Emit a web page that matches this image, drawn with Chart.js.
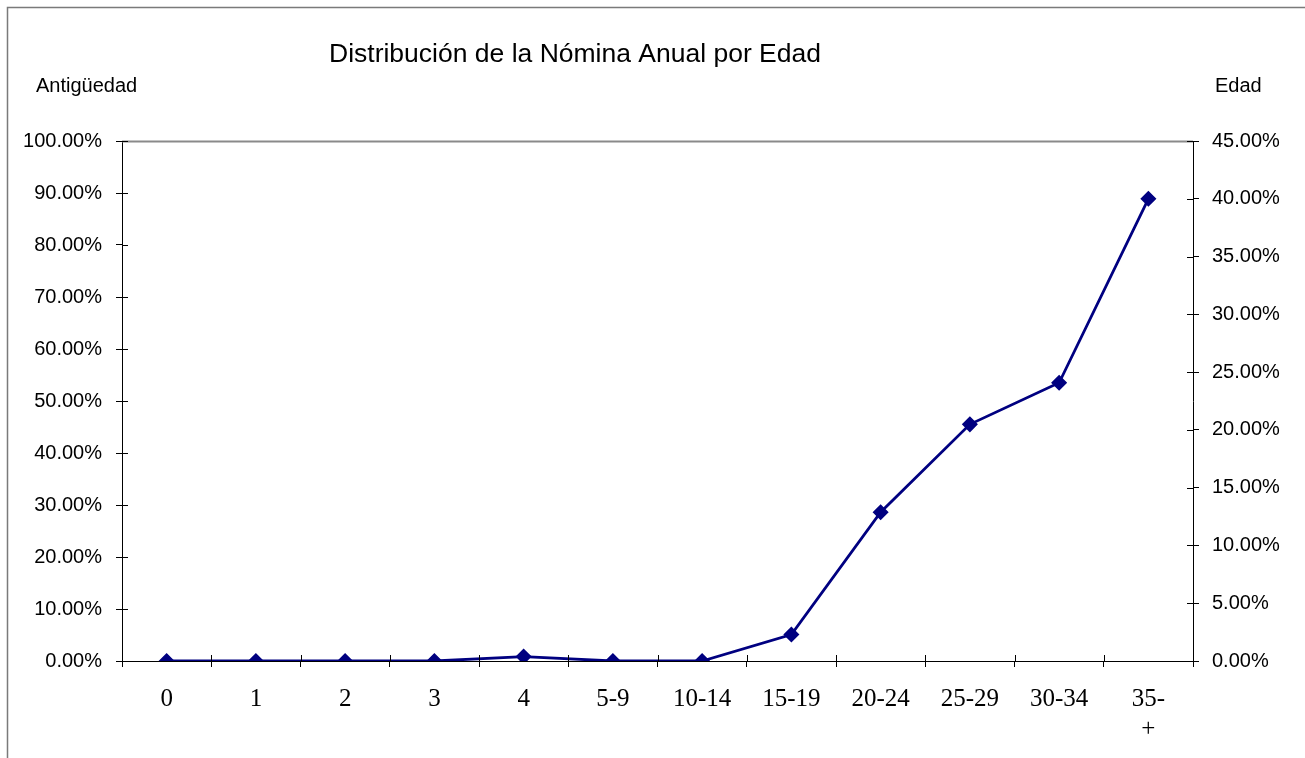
<!DOCTYPE html>
<html>
<head>
<meta charset="utf-8">
<script src="https://cdn.jsdelivr.net/npm/chart.js@4.4.0/dist/chart.umd.min.js"></script>
<style>
  body { margin: 0; background: #fff; }
  canvas { display: block; }
</style>
</head>
<body>
<canvas id="nominaChart" width="1305" height="758"></canvas>
<script>
// datos
edades = ["0", "1", "2", "3", "4", "5-9", "10-14", "15-19", "20-24", "25-29", "30-34", ["35-", "+"]]
nomina = [0, 0, 0, 0, 0.38, 0, 0, 2.29, 12.87, 20.48, 24.08, 40.0]   // eje derecho (Edad)
ticks_izq = [0, 100, 10]    // min, max, paso
ticks_der = [0, 45, 5]

titulo = "Distribución de la Nómina Anual por Edad"
etiqueta_izq = "Antigüedad"
etiqueta_der = "Edad"

sans = '"Liberation Sans", Arial, sans-serif'
serif = '"Liberation Serif", "Times New Roman", serif'

// marco, titulo, borde superior y rayitas hacia dentro
extras = {
  id: "extras",
  beforeDraw(chart) {
    ctx = chart.ctx
    ctx.save()
    ctx.fillStyle = "#fff"
    ctx.fillRect(0, 0, chart.width, chart.height)
    ctx.restore()
  },
  afterDraw(chart) {
    ctx = chart.ctx
    a = chart.chartArea
    ctx.save()
    ctx.strokeStyle = "#7a7a7a"
    ctx.lineWidth = 1.5
    ctx.strokeRect(7.5, 7.5, 1400, 800)

    ctx.strokeStyle = "#8a8a8a"
    ctx.lineWidth = 2
    ctx.beginPath()
    ctx.moveTo(a.left, a.top + 0.5)
    ctx.lineTo(a.right, a.top + 0.5)
    ctx.stroke()

    ctx.strokeStyle = "#000"
    ctx.lineWidth = 1
    ctx.beginPath()
    sy = chart.scales.y
    sy.ticks.forEach((t, i) => {
      py = Math.round(sy.getPixelForTick(i)) + 0.5
      ctx.moveTo(a.left, py); ctx.lineTo(a.left + 6, py)
    })
    sy1 = chart.scales.y1
    sy1.ticks.forEach((t, i) => {
      py = Math.round(sy1.getPixelForTick(i)) + 0.5
      ctx.moveTo(a.right - 6, py); ctx.lineTo(a.right, py)
    })
    n = edades.length
    for (i = 0; i <= n; i++) {
      px = Math.round(a.left + i * (a.right - a.left) / n) + 0.5
      ctx.moveTo(px, a.bottom - 6); ctx.lineTo(px, a.bottom)
    }
    ctx.stroke()

    ctx.fillStyle = "#000"
    ctx.textBaseline = "middle"
    ctx.textAlign = "center"
    ctx.font = "26.5px " + sans
    ctx.fillText(titulo, 575, 55)
    ctx.font = "20px " + sans
    ctx.textAlign = "left"
    ctx.fillText(etiqueta_izq, 36, 86)
    ctx.fillText(etiqueta_der, 1215, 86)
    ctx.restore()
  }
}

chart = document.getElementById("nominaChart")

nominaChart = new Chart(chart, {
  type: "line",
  data: {
    labels: edades,
    datasets: [{
      label: "Nómina",
      data: nomina,
      yAxisID: "y1",
      borderColor: "#000080",
      backgroundColor: "#000080",
      borderWidth: 2.8,
      pointStyle: "rectRot",
      pointRadius: 7,
      pointBorderWidth: 1.5,
      pointBackgroundColor: "#000080",
      pointBorderColor: "#000080",
      tension: 0,
      fill: false
    }]
  },
  options: {
    responsive: false,
    animation: false,
    layout: { padding: { top: 141, left: 0, right: 0, bottom: 0 } },
    plugins: {
      legend: { display: false },
      title: { display: false },
      tooltip: { enabled: false }
    },
    scales: {
      x: {
        type: "category",
        offset: true,
        grid: { offset: true, drawOnChartArea: false, tickLength: 6, color: "#000" },
        border: { color: "#000", width: 1 },
        ticks: { color: "#000", font: { family: serif, size: 25 }, padding: 17, maxRotation: 0, autoSkip: false },
        afterFit(scale) { scale.height = 97 }
      },
      y: {
        position: "left",
        min: ticks_izq[0],
        max: ticks_izq[1],
        grid: { drawOnChartArea: false, tickLength: 6, color: "#000" },
        border: { color: "#000", width: 1 },
        ticks: {
          stepSize: ticks_izq[2],
          color: "#000",
          font: { family: sans, size: 20 },
          padding: 14,
          callback: v => v.toFixed(2) + "%"
        },
        afterFit(scale) { scale.width = 122 }
      },
      y1: {
        position: "right",
        min: ticks_der[0],
        max: ticks_der[1],
        grid: { drawOnChartArea: false, tickLength: 6, color: "#000" },
        border: { color: "#000", width: 1 },
        ticks: {
          stepSize: ticks_der[2],
          color: "#000",
          font: { family: sans, size: 20 },
          padding: 13,
          callback: v => v.toFixed(2) + "%"
        },
        afterFit(scale) { scale.width = 112 }
      }
    }
  },
  plugins: [extras]
})
</script>
</body>
</html>
